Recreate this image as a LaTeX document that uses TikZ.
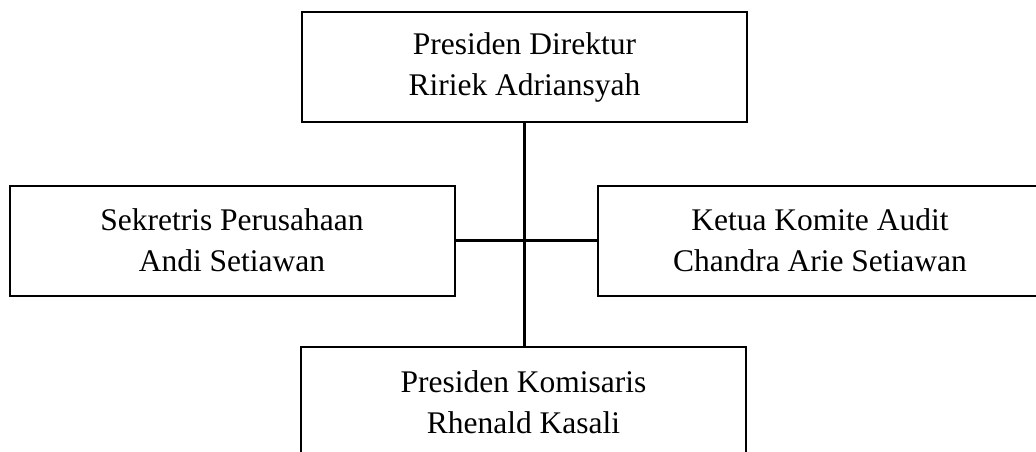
\documentclass[tikz,border=0pt]{standalone}
\usepackage{fontspec}
\setmainfont{Liberation Serif}
\begin{document}
\begin{tikzpicture}[x=1pt,y=-1pt,
  orgbox/.style={draw, line width=2pt, minimum width=445pt, minimum height=110pt,
    inner sep=0pt, align=center, font=\fontsize{31.5}{41}\selectfont},
  link/.style={line width=2.3pt}]
  \useasboundingbox (0,0) rectangle (1036,452);
  % boxes of the chart
  \node[orgbox] (dir) at (524.5,67) {Presiden Direktur\\Ririek Adriansyah};
  \node[orgbox] (sek) at (232,240.5) {Sekretris Perusahaan\\Andi Setiawan};
  \node[orgbox] (aud) at (820,240.5) {Ketua Komite Audit\\Chandra Arie Setiawan};
  \node[orgbox] (kom) at (523.5,402) {Presiden Komisaris\\Rhenald Kasali};
  % connectors
  \draw[link] (dir.south) -- (dir.south |- kom.north);
  \draw[link] (sek.east) -- (aud.west);
\end{tikzpicture}
\end{document}
